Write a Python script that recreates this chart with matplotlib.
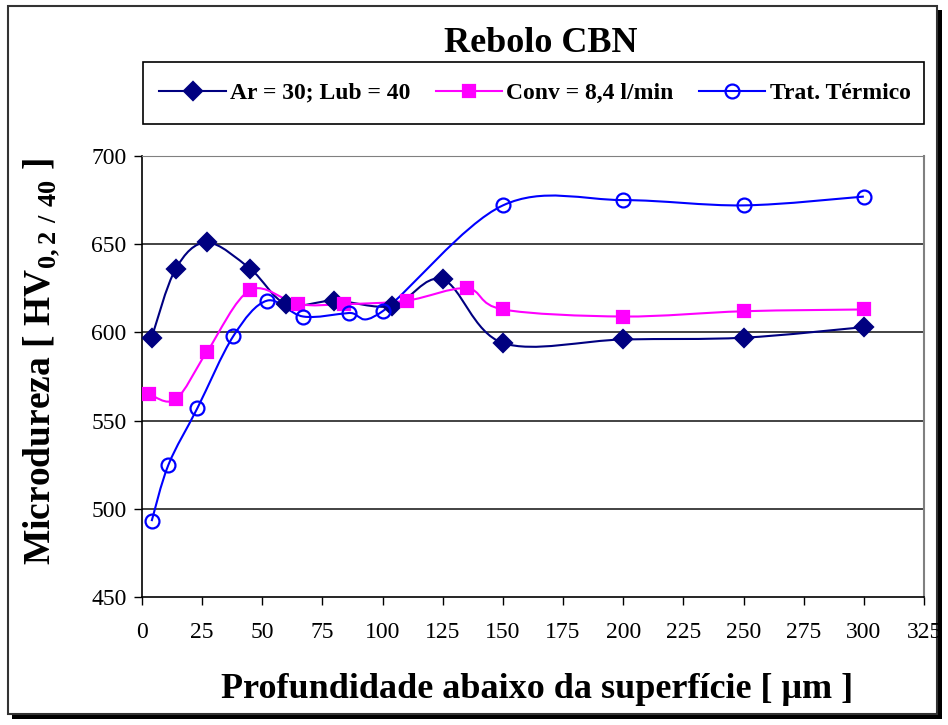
import matplotlib
matplotlib.use("Agg")
import matplotlib.pyplot as plt
from matplotlib.path import Path
from matplotlib.patches import PathPatch, Rectangle
from matplotlib.lines import Line2D

plt.rcParams['font.family'] = ['Liberation Serif', 'DejaVu Serif']
plt.rcParams['mathtext.fontset'] = 'custom'
plt.rcParams['mathtext.rm'] = 'Liberation Serif'
plt.rcParams['mathtext.bf'] = 'Liberation Serif:bold'

# profundidade [um] e microdureza HV 0,2/40
x_ar = [4, 14, 27, 45, 60, 80, 104, 125, 150, 200, 250, 300]
y_ar = [597, 636, 651, 636, 616, 618, 615, 630, 594, 596, 597, 603]

x_conv = [3, 14, 27, 45, 65, 84, 110, 135, 150, 200, 250, 300]
y_conv = [565, 562, 589, 624, 616, 616, 618, 625, 613, 609, 612, 613]

x_tt = [4, 11, 23, 38, 52, 67, 86, 100, 150, 200, 250, 300]
y_tt = [493, 525, 557, 598, 618, 609, 611, 612, 672, 675, 672, 677]

labels = ['Ar = 30; Lub = 40', 'Conv = 8,4 l/min', 'Trat. Térmico']


def smooth_path(xs, ys):
    # curva suavizada tipo Excel (bezier cubica, catmull-rom)
    pts = list(zip(xs, ys))
    n = len(pts)
    verts = [pts[0]]
    codes = [Path.MOVETO]
    for i in range(n - 1):
        p0 = pts[i - 1] if i > 0 else pts[i]
        p1 = pts[i]
        p2 = pts[i + 1]
        p3 = pts[i + 2] if i + 2 < n else pts[i + 1]
        c1 = (p1[0] + (p2[0] - p0[0]) / 6, p1[1] + (p2[1] - p0[1]) / 6)
        c2 = (p2[0] - (p3[0] - p1[0]) / 6, p2[1] - (p3[1] - p1[1]) / 6)
        verts += [c1, c2, p2]
        codes += [Path.CURVE4] * 3
    return Path(verts, codes)


fig = plt.figure(figsize=(9.48, 7.25), dpi=100)
W, H = 948, 725

# moldura externa com sombra
fig.patches.append(Rectangle((12 / W, 1 - 719 / H), 930 / W, 709 / H,
                             transform=fig.transFigure, facecolor='black',
                             edgecolor='none', zorder=-2))
fig.patches.append(Rectangle((8 / W, 1 - 714 / H), 929 / W, 708 / H,
                             transform=fig.transFigure, facecolor='white',
                             edgecolor='#333333', linewidth=1.5, zorder=-1))

# caixa da legenda
fig.patches.append(Rectangle((143 / W, 1 - 124 / H), 781 / W, 62 / H,
                             transform=fig.transFigure, facecolor='white',
                             edgecolor='black', linewidth=1.2, zorder=-0.5))

ax = fig.add_axes([142 / W, 1 - 597 / H, 782 / W, 441 / H])

series = [
    (x_ar, y_ar, '#000080', 'D', 9, '#000080'),
    (x_conv, y_conv, '#FF00FF', 's', 8, '#FF00FF'),
    (x_tt, y_tt, '#0000FF', 'o', 10, 'none'),
]
handles = []
for xs, ys, c, m, ms, fc in series:
    ax.add_patch(PathPatch(smooth_path(xs, ys), facecolor='none',
                           edgecolor=c, linewidth=1.5, zorder=3))
    ax.plot(xs, ys, linestyle='none', marker=m, markersize=ms,
            markerfacecolor=fc, markeredgecolor=c, markeredgewidth=1.6,
            zorder=4)
    handles.append(Line2D([], [], color=c, linewidth=1.5, marker=m,
                          markersize=ms, markerfacecolor=fc,
                          markeredgecolor=c, markeredgewidth=1.6))

ax.set_xlim(0, 325)
ax.set_ylim(450, 700)
ax.set_xticks(range(0, 326, 25))
ax.set_yticks(range(450, 701, 50))
ax.tick_params(axis='both', direction='out', length=6, width=1,
               labelsize=17, colors='black')
ax.tick_params(axis='x', pad=12)
ax.tick_params(axis='y', pad=5)

for y in range(500, 701, 50):
    ax.axhline(y, color='#222222' if y < 700 else '#808080',
               linewidth=1.2, zorder=1)
ax.spines['left'].set_color('black')
ax.spines['bottom'].set_color('black')
ax.spines['left'].set_linewidth(1.2)
ax.spines['bottom'].set_linewidth(1.2)
ax.spines['right'].set_color('#808080')
ax.spines['top'].set_color('#808080')
ax.spines['right'].set_linewidth(1.5)

fig.text(541 / W, 1 - 43 / H, 'Rebolo CBN', ha='center', va='center',
         fontsize=26, fontweight='bold')

fig.text(537 / W, 1 - 690 / H, 'Profundidade abaixo da superfície [ μm ]',
         ha='center', va='center', fontsize=26, fontweight='bold')
fig.text(42 / W, 1 - 362 / H, r'Microdureza [ HV$_{\mathbf{0,2\ /\ 40}}$ ]',
         ha='center', va='center', rotation=90, fontsize=27,
         fontweight='bold')

leg = fig.legend(handles, labels, loc='center', ncol=3, mode='expand',
                 bbox_to_anchor=(150 / W, 1 - 124 / H, 770 / W, 62 / H),
                 frameon=False, handlelength=2.8, handletextpad=0.2,
                 borderaxespad=0, prop={'weight': 'bold', 'size': 17})

fig.savefig('out.png', dpi=100)
